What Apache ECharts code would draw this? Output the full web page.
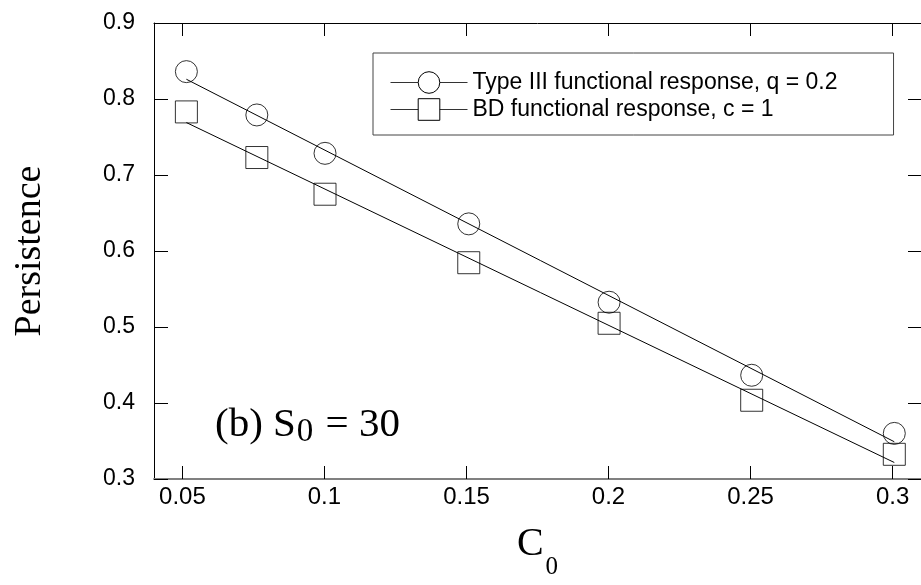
<!DOCTYPE html>
<html>
<head>
<meta charset="utf-8">
<script src="https://cdn.jsdelivr.net/npm/echarts@6/dist/echarts.min.js"></script>
<style>
  html, body { margin: 0; padding: 0; background: #fff; }
  #chart { width: 921px; height: 585px; }
</style>
</head>
<body>
<div id="chart"></div>
<script>
// Data
var c0Values = [0.0514, 0.0762, 0.1002, 0.1508, 0.2002, 0.2504, 0.3006];
var typeIIIValues = [0.836, 0.779, 0.7285, 0.6357, 0.5326, 0.4365, 0.360];
var bdValues = [0.783, 0.723, 0.6747, 0.5846, 0.5049, 0.4036, 0.3325];

// Straight fit lines (end points)
var fitC0 = [0.0514, 0.3006];
var typeIIIFit = [0.826, 0.349];
var bdFit = [0.769, 0.3217];

var xTicks = [0.05, 0.1, 0.15, 0.2, 0.25, 0.3];
var nameTypeIII = 'Type III functional response, q = 0.2';
var nameBD = 'BD functional response, c = 1';

function pairs(xs, ys) {
  return xs.map(function (x, i) { return [x, ys[i]]; });
}

var chart = echarts.init(document.getElementById('chart'));

var serif = 'Liberation Serif';
var sans = 'Liberation Sans';

var option = {
  animation: false,
  backgroundColor: '#fff',
  grid: { left: 154, top: 23, width: 768, height: 462 },
  legend: {
    data: [nameTypeIII, nameBD],
    orient: 'vertical',
    left: 373,
    top: 53,
    itemWidth: 77,
    itemHeight: 27,
    itemGap: 4,
    padding: [18, 56, 14, 17],
    borderColor: '#444',
    borderWidth: 1,
    backgroundColor: '#fff',
    selectedMode: false,
    textStyle: { fontFamily: sans, fontSize: 23, color: '#000' },
    itemStyle: { color: '#fff', borderColor: '#000', borderWidth: 1 },
    lineStyle: { color: '#333', width: 1 }
  },
  xAxis: [{
    type: 'value',
    position: 'bottom',
    min: 0.04,
    max: 0.31,
    axisLine: { lineStyle: { color: '#808080', width: 2 } },
    axisTick: { inside: true, length: 13, customValues: xTicks, lineStyle: { color: '#000', width: 1 } },
    axisLabel: { customValues: xTicks, margin: 6, fontFamily: sans, fontSize: 24, color: '#000' },
    splitLine: { show: false },
    name: '{c|C}{s|0}',
    nameLocation: 'middle',
    nameGap: 30,
    nameTextStyle: {
      rich: {
        c: { fontFamily: serif, fontSize: 40, color: '#000' },
        s: { fontFamily: serif, fontSize: 25, color: '#000', padding: [46, 0, 0, 2] }
      }
    }
  }, {
    type: 'value',
    position: 'top',
    min: 0.04,
    max: 0.31,
    axisLine: { lineStyle: { color: '#000', width: 1 } },
    axisTick: { inside: true, length: 13, customValues: xTicks, lineStyle: { color: '#000', width: 1 } },
    axisLabel: { show: false },
    splitLine: { show: false }
  }],
  yAxis: [{
    type: 'value',
    position: 'left',
    min: 0.3,
    max: 0.9,
    interval: 0.1,
    axisLine: { show: true, lineStyle: { color: '#000', width: 1 } },
    axisTick: { show: true, inside: true, length: 14, lineStyle: { color: '#000', width: 1 } },
    axisLabel: {
      margin: 19, fontFamily: sans, fontSize: 23, color: '#000',
      formatter: function (v) { return (Math.round(v * 10) / 10).toString(); }
    },
    splitLine: { show: false },
    name: 'Persistence',
    nameLocation: 'middle',
    nameRotate: 90,
    nameGap: 105,
    nameTextStyle: { fontFamily: serif, fontSize: 38, color: '#000' }
  }, {
    type: 'value',
    position: 'right',
    min: 0.3,
    max: 0.9,
    interval: 0.1,
    axisLine: { show: true, lineStyle: { color: '#000', width: 1 } },
    axisTick: { show: true, inside: true, length: 13, lineStyle: { color: '#000', width: 1 } },
    axisLabel: { show: false },
    splitLine: { show: false }
  }],
  graphic: [{
    type: 'text',
    x: 215,
    y: 425,
    style: {
      text: '{m|(b) S}{s|0}{m| = 30}',
      align: 'left',
      verticalAlign: 'middle',
      rich: {
        m: { fontFamily: serif, fontSize: 41, fill: '#000' },
        s: { fontFamily: serif, fontSize: 33, fill: '#000', padding: [14, 2, 0, 1] }
      }
    }
  }],
  series: [{
    name: nameTypeIII,
    type: 'line',
    data: pairs(fitC0, typeIIIFit),
    symbol: 'circle',
    showSymbol: false,
    lineStyle: { color: '#000', width: 1 },
    itemStyle: { color: '#000' },
    z: 2
  }, {
    name: nameBD,
    type: 'line',
    data: pairs(fitC0, bdFit),
    symbol: 'rect',
    showSymbol: false,
    lineStyle: { color: '#000', width: 1 },
    itemStyle: { color: '#000' },
    z: 2
  }, {
    name: nameTypeIII,
    type: 'scatter',
    data: pairs(c0Values, typeIIIValues),
    symbol: 'circle',
    symbolSize: 22,
    itemStyle: { color: 'rgba(0,0,0,0)', borderColor: '#000', borderWidth: 1 },
    z: 3
  }, {
    name: nameBD,
    type: 'scatter',
    data: pairs(c0Values, bdValues),
    symbol: 'rect',
    symbolSize: 22,
    itemStyle: { color: 'rgba(0,0,0,0)', borderColor: '#000', borderWidth: 1 },
    z: 3
  }]
};

chart.setOption(option);

window.addEventListener('resize', function () {
  chart.resize();
});
</script>
</body>
</html>
